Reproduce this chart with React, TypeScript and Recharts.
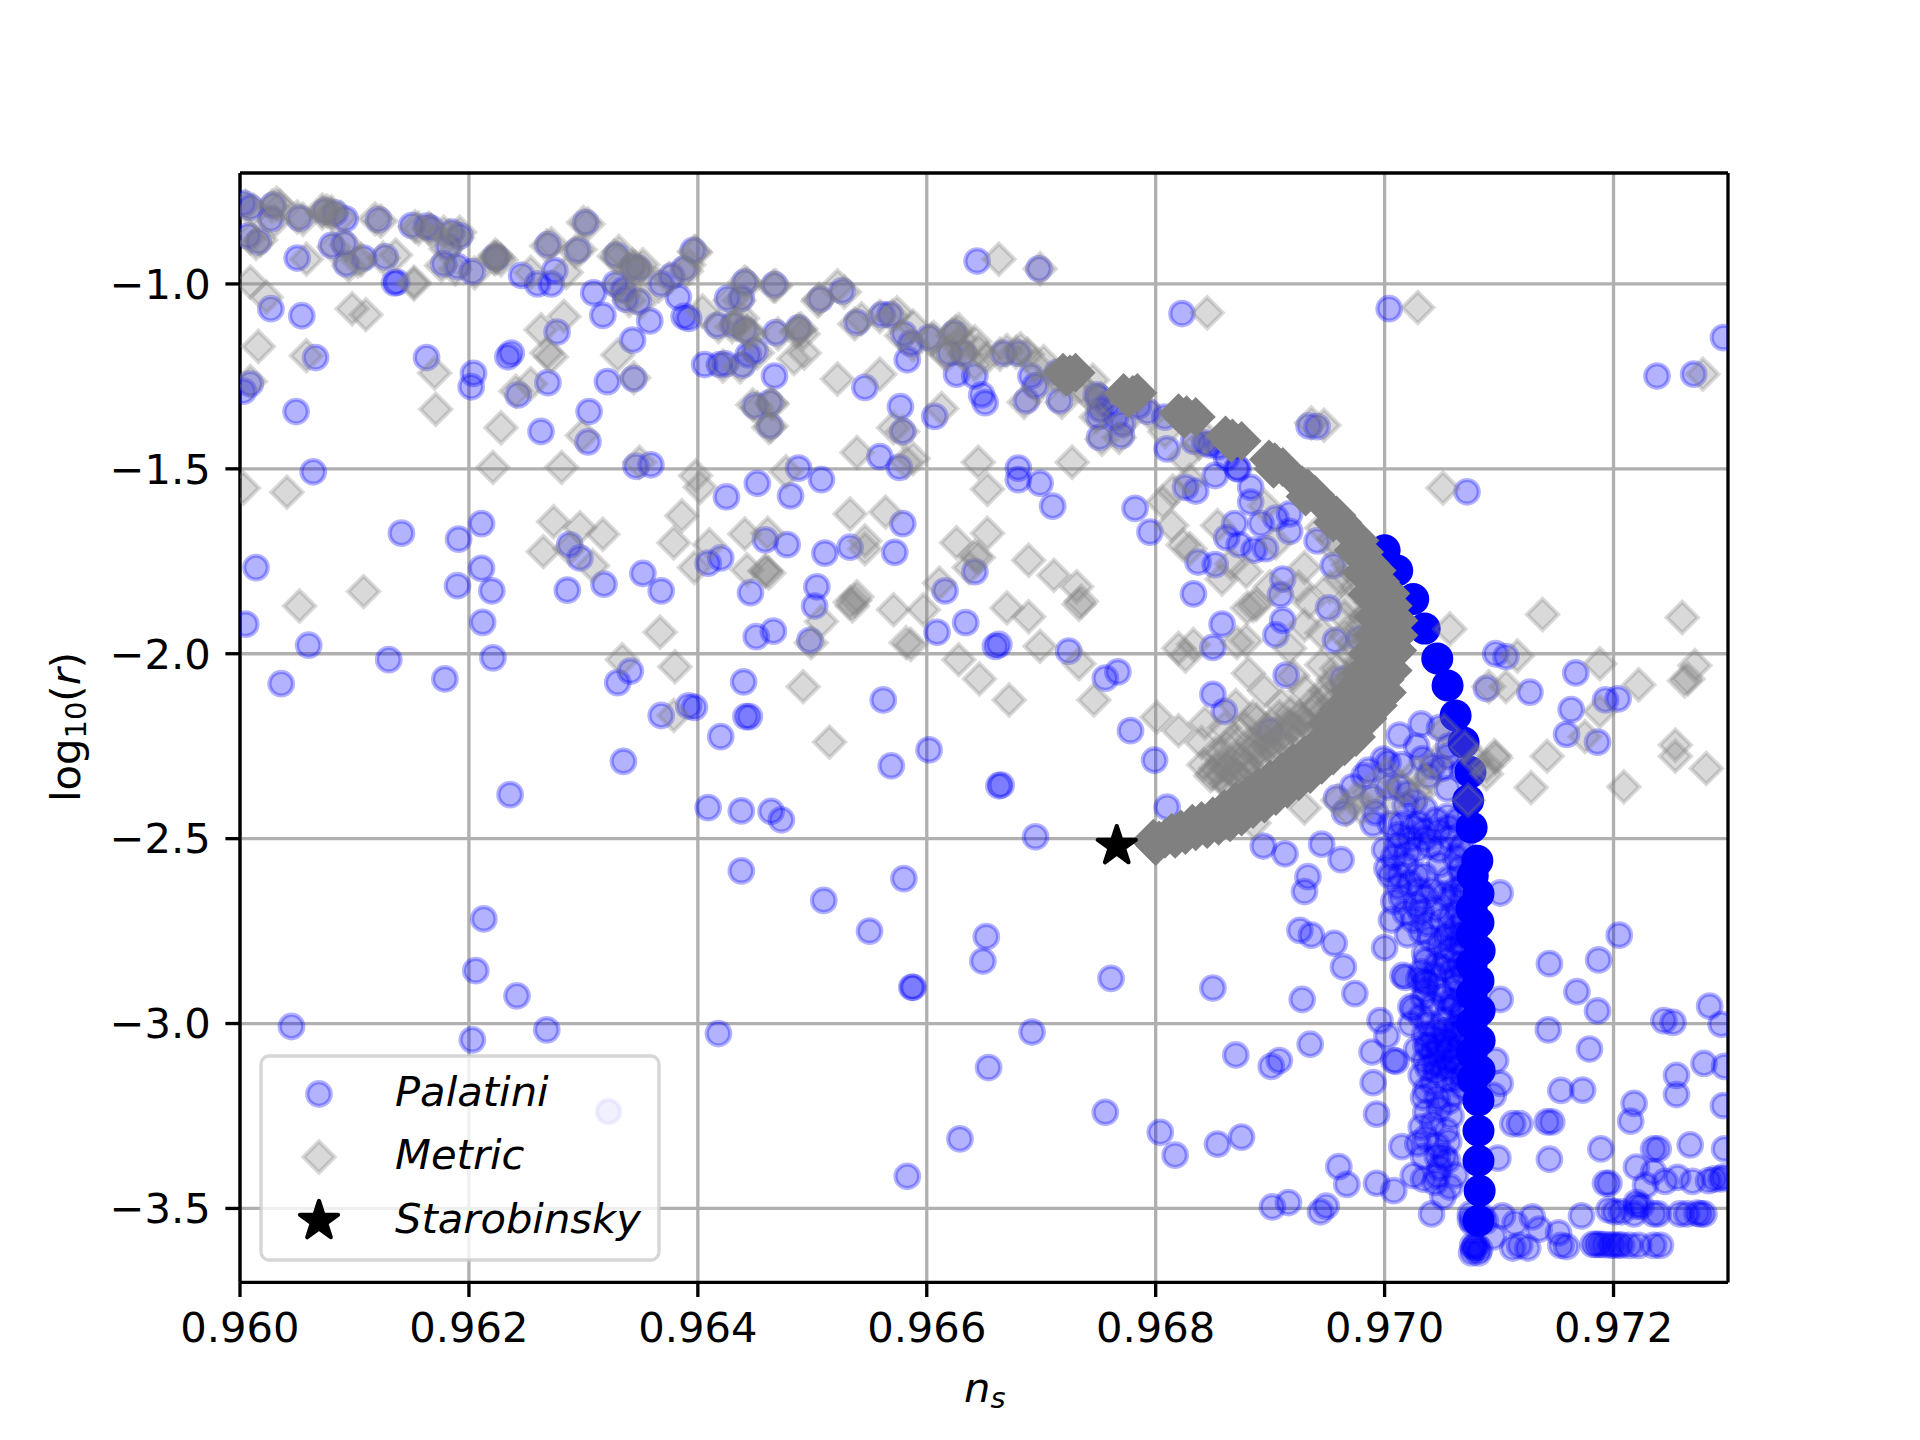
import React from 'react';
import { ScatterChart, Scatter, XAxis, YAxis, CartesianGrid, ReferenceLine } from 'recharts';

type Pair = [number, number];

const xTicks = [0.96, 0.962, 0.964, 0.966, 0.968, 0.97, 0.972];
const yTicks = [-3.5, -3, -2.5, -2, -1.5, -1];

// Palatini, top arc, values as [n_s, log10(r)]
const palatiniArc: Pair[] = [
  [.96003,-.782],[.96009,-.793],[.96029,-.787],[.96027,-.824],[.96052,-.822],[.96074,-.803],[.96083,-.808],[.96092,-.824],
  [.96121,-.826],[.9615,-.842],[.96163,-.844],[.96167,-.85],[.96185,-.86],[.96192,-.87],[.96182,-.9],[.96007,-.87],
  [.96016,-.886],[.9605,-.93],[.9608,-.896],[.96091,-.891],[.96093,-.946],[.96108,-.93],[.96127,-.927],[.96135,-.997],
  [.96137,-.995],[.96178,-.946],[.9619,-.953],[.96203,-.967],[.96223,-.927],[.96224,-.93],[.96246,-.977],[.9626,-1.0],[.96272,-1.0],
  [.96275,-.964],[.96302,-.834],[.96269,-.894],[.96295,-.909],[.96309,-1.024],[.96317,-1.085],[.96329,-.922],[.96328,-1.0],
  [.96335,-1.016],[.96343,-.953],[.96348,-.958],[.96337,-1.041],[.96348,-1.047],[.96358,-1.1],[.96343,-1.152],[.96368,-1.0],
  [.96377,-.979],[.96388,-.959],[.96396,-.909],[.96383,-1.036],[.96388,-1.088],[.96392,-1.093],[.96417,-1.112],[.96426,-1.039],
  [.96438,-1.039],[.96441,-.995],[.96431,-1.11],[.96441,-1.124],[.96467,-1.002],[.96468,-1.132],[.96488,-1.119],[.96507,-1.041],
  [.96526,-1.019],[.9645,-1.181],[.96444,-1.192],[.96406,-1.218],[.96419,-1.218],[.96424,-1.216],[.96439,-1.22],[.96467,-1.249],
  [.9645,-1.33],[.96463,-1.321],[.96463,-1.384],[.96539,-1.104],[.96561,-1.083],[.96568,-1.083],[.9658,-1.135],[.96586,-1.161],
  [.96602,-1.145],[.96624,-1.133],[.9662,-1.187],[.96583,-1.205],[.96546,-1.28],[.96577,-1.332],[.96607,-1.358],[.96579,-1.399],
  [.96632,-1.187],[.96626,-1.244],[.96642,-1.249],[.96648,-1.3],[.96651,-1.321],[.96644,-.938],[.96667,-1.187],[.9668,-1.187],
  [.96691,-1.249],[.96695,-1.275],[.96687,-1.316],[.96716,-1.316],[.96714,-1.239],[.96727,-1.233],[.96748,-1.3],[.9675,-1.306],
  [.9675,-1.358],[.96751,-1.415],[.9677,-1.41],[.96771,-1.379],[.96765,-1.36],[.96785,-1.33],[.96833,-1.425],[.96843,-1.43],[.96847,-1.435],
  [.96752,-1.34],[.96758,-1.325],[.96793,-1.345],[.96808,-1.36],[.96855,-1.44],[.96862,-1.47],[.96872,-1.5],
];

// Palatini, scattered points
const palatiniScatter: Pair[] = [
  [.96027,-1.067],[.96054,-1.086],[.96066,-1.199],[.96163,-1.199],[.96204,-1.242],[.96202,-1.278],[.96234,-1.197],[.96237,-1.187],
  [.96277,-1.13],[.96243,-1.3],[.96269,-1.267],[.96321,-1.264],[.96344,-1.256],[.96009,-1.27],[.96003,-1.29],[.96049,-1.345],
  [.96305,-1.345],[.96263,-1.399],[.96304,-1.427],[.96064,-1.508],[.96346,-1.493],[.96359,-1.489],[.96425,-1.576],[.96452,-1.539],
  [.96488,-1.498],[.96508,-1.529],[.96481,-1.573],[.96559,-1.467],[.96576,-1.496],[.96141,-1.674],[.96191,-1.69],[.96211,-1.648],
  [.96288,-1.705],[.96297,-1.741],[.96211,-1.769],[.96014,-1.767],[.9619,-1.816],[.9622,-1.83],[.96286,-1.828],[.96318,-1.812],
  [.96352,-1.783],[.96368,-1.83],[.96409,-1.755],[.9642,-1.741],[.96459,-1.692],[.96478,-1.705],[.96511,-1.728],[.96533,-1.712],
  [.96572,-1.726],[.96579,-1.648],[.96642,-1.778],[.96616,-1.83],[.96504,-1.819],[.96502,-1.871],[.96446,-1.835],[.96005,-1.92],
  [.96212,-1.915],[.9606,-1.977],[.96451,-1.954],[.96466,-1.939],[.96498,-1.964],[.96609,-1.942],[.96634,-1.916],[.9666,-1.98],
  [.9613,-2.016],[.96221,-2.011],[.96036,-2.081],[.96179,-2.068],[.96341,-2.047],[.9633,-2.078],[.9644,-2.076],[.96562,-2.125],
  [.96368,-2.167],[.96392,-2.141],[.96397,-2.145],[.96442,-2.17],[.96445,-2.17],[.9642,-2.224],[.96335,-2.291],[.96602,-2.26],
  [.96569,-2.303],[.96236,-2.381],[.96409,-2.416],[.96438,-2.425],[.96464,-2.426],[.96473,-2.449],[.96438,-2.587],[.9658,-2.608],
  [.9651,-2.667],[.9655,-2.75],[.96213,-2.717],[.96206,-2.857],[.96242,-2.925],[.96045,-3.008],[.96268,-3.017],[.96203,-3.044],
  [.96418,-3.027],[.96587,-2.902],[.96588,-2.902],[.96652,-2.765],[.96649,-2.831],[.96654,-3.119],[.96629,-3.312],[.96583,-3.413],
  [.96322,-3.238],[.96663,-2.357],[.96698,-.959],[.96823,-1.08],[.97004,-1.067],[.97238,-1.249],[.9727,-1.244],[.97296,-1.145],
  [.96934,-1.384],[.96941,-1.386],[.9681,-1.446],[.97072,-1.562],[.9668,-1.498],[.9668,-1.529],[.96699,-1.539],[.9671,-1.601],
  [.96782,-1.607],[.96795,-1.671],[.96833,-1.838],[.96724,-1.993],[.96756,-2.066],[.96767,-2.049],[.96778,-2.208],[.96799,-2.288],
  [.96663,-1.975],[.96826,-1.55],[.96835,-1.56],[.96852,-1.518],[.96871,-1.498],[.96883,-1.55],[.96883,-1.59],[.96869,-1.648],
  [.96862,-1.686],[.96873,-1.705],[.96886,-1.72],[.96896,-1.716],[.96892,-1.648],[.96905,-1.633],[.96917,-1.622],[.96917,-1.669],
  [.96941,-1.695],[.96837,-1.752],[.96852,-1.759],[.96911,-1.798],[.96909,-1.84],[.96955,-1.762],[.96911,-1.91],[.96951,-1.876],
  [.96905,-1.949],[.96858,-1.92],[.9685,-1.983],[.96957,-1.964],[.96978,-1.959],[.96914,-2.058],[.96963,-2.068],[.9685,-2.11],
  [.9686,-2.156],[.97097,-2.0],[.97106,-2.008],[.97089,-2.094],[.97127,-2.104],[.97167,-2.052],[.97163,-2.151],[.97193,-2.125],
  [.97204,-2.122],[.97159,-2.218],[.97186,-2.239],[.969,-2.208],[.96665,-2.355],[.9681,-2.415],[.96695,-2.495],[.96761,-2.878],
  [.9685,-2.904],[.96692,-3.023],[.96756,-3.24],[.96804,-3.294],[.96817,-3.356],[.96854,-3.326],[.96875,-3.307],[.96894,-2.52],
  [.96913,-2.541],[.96945,-2.515],[.96962,-2.557],[.96933,-2.603],[.9693,-2.643],[.96926,-2.748],[.96936,-2.761],[.96956,-2.783],
  [.96964,-2.847],[.96928,-2.935],[.96974,-2.919],[.9687,-3.085],[.96901,-3.116],[.96908,-3.1],[.96935,-3.056],[.97,-2.795],
  [.96996,-2.992],[.97002,-3.033],[.96989,-3.077],[.97008,-3.1],[.9701,-3.102],[.9699,-3.16],[.96993,-3.245],[.97023,-2.955],
  [.97023,-3.002],[.97101,-2.647],[.97101,-2.935],[.97097,-3.1],[.97101,-3.162],[.97095,-3.194],[.97144,-2.838],[.97187,-2.828],
  [.97205,-2.761],[.97168,-2.914],[.97186,-2.966],[.97143,-3.017],[.97179,-3.069],[.97154,-3.181],[.97173,-3.18],[.97112,-3.271],
  [.97118,-3.271],[.97142,-3.266],[.97146,-3.266],[.97144,-3.367],[.97189,-3.339],[.97284,-2.953],[.97244,-2.992],[.97252,-2.997],
  [.97294,-3.002],[.97279,-3.108],[.97297,-3.116],[.97255,-3.14],[.97255,-3.192],[.97296,-3.222],[.97218,-3.216],[.97215,-3.264],
  [.97267,-3.328],[.97297,-3.339],[.97235,-3.339],[.97239,-3.339],[.9722,-3.388],[.97235,-3.401],[.97256,-3.416],[.97228,-3.437],
  [.97245,-3.427],[.97269,-3.427],[.97288,-3.42],[.97294,-3.42],[.97296,-3.415],[.97283,-3.425],[.97196,-3.432],[.97193,-3.432],
  [.9722,-3.494],[.97224,-3.494],[.9722,-3.484],[.97196,-3.504],[.97201,-3.509],[.97207,-3.509],[.97235,-3.515],[.97239,-3.515],
  [.97258,-3.515],[.97264,-3.515],[.97273,-3.513],[.97276,-3.515],[.97279,-3.515],[.97218,-3.515],[.97172,-3.52],[.97188,-3.597],
  [.97182,-3.597],[.97197,-3.599],[.97207,-3.599],[.97214,-3.6],[.97222,-3.6],[.97235,-3.6],[.97241,-3.6],[.97185,-3.597],[.97192,-3.598],
  [.972,-3.599],[.97204,-3.599],[.97154,-3.6],[.97159,-3.603],[.97112,-3.607],[.97125,-3.607],[.97118,-3.6],[.97103,-3.52],
  [.97129,-3.523],[.97114,-3.54],[.97135,-3.556],[.97152,-3.566],[.97095,-3.577],[.96902,-3.496],[.96916,-3.484],[.96944,-3.509],
  [.96949,-3.494],[.9696,-3.387],[.96967,-3.435],[.96993,-3.432],[.97008,-3.452],[.97025,-3.411],[.97034,-3.421],[.97041,-3.515],
  [.97051,-3.468],[.97057,-3.442],[.97046,-3.411],[.97015,-3.333],[.97029,-3.325],[.97046,-3.359],[.97055,-3.37],[.97099,-3.364],
];

// Palatini, the cloud just inside the ridge
const palatiniCloud: Pair[] = [
  [.96986,-2.315],[.96999,-2.285],[.97003,-2.295],[.97035,-2.42],[.9703,-2.46],[.97056,-2.47],[.97064,-2.45],[.97047,-2.48],
  [.9702,-2.378],[.97055,-2.365],[.97042,-2.305],[.97033,-2.284],[.97055,-2.278],[.97068,-2.315],[.97012,-2.36],[.97026,-2.4],
  [.97015,-2.46],[.97025,-2.47],[.97045,-2.45],[.97055,-2.44],[.97035,-2.48],[.97012,-2.52],[.97,-2.53],[.9702,-2.54],[.9704,-2.52],
  [.97058,-2.5],[.97005,-2.6],[.97018,-2.57],[.97035,-2.6],[.97048,-2.57],[.97062,-2.55],[.97012,-2.63],[.97022,-2.62],[.97042,-2.64],
  [.97056,-2.61],[.97068,-2.6],[.97008,-2.67],[.97015,-2.66],[.97028,-2.68],[.97045,-2.69],[.97058,-2.66],[.97025,-2.72],[.97032,-2.7],
  [.9705,-2.72],[.97065,-2.7],[.9704,-2.77],[.97055,-2.76],[.97062,-2.74],[.97035,-2.81],[.97058,-2.8],[.97068,-2.78],[.97032,-2.86],
  [.97016,-2.87],[.97018,-2.875],[.9703,-2.88],[.97052,-2.85],[.97066,-2.84],[.97034,-2.93],[.97048,-2.91],[.97062,-2.9],[.97025,-2.96],
  [.97042,-2.95],[.97058,-2.94],[.97068,-2.97],[.97032,-2.98],[.97038,-3.0],[.97052,-2.99],[.97035,-3.03],[.97045,-3.02],[.97062,-3.01],
  [.97028,-3.07],[.97038,-3.06],[.97054,-3.05],[.97066,-3.04],[.97035,-3.1],[.97048,-3.09],[.97062,-3.08],[.97032,-3.14],[.97045,-3.13],
  [.97058,-3.12],[.97036,-3.18],[.97042,-3.16],[.97055,-3.15],[.97068,-3.17],[.97034,-3.2],[.97046,-3.2],[.9706,-3.19],[.97036,-3.24],
  [.97048,-3.23],[.97058,-3.25],[.97032,-3.28],[.97042,-3.27],[.97054,-3.29],[.97036,-3.31],[.97046,-3.33],[.97056,-3.32],[.97052,-3.36],
  [.97048,-3.39],[.97034,-3.36],[.97044,-3.43],[.97062,-3.41],[.97035,-2.5],[.97022,-2.5],[.97048,-2.53],[.97068,-2.52],[.97028,-2.6],
  [.97052,-2.65],[.97038,-2.73],[.97048,-2.79],[.97054,-2.83],[.97044,-2.87],[.97036,-2.91],[.97056,-2.96],[.97048,-3.06],[.97056,-3.21],
  // left of the edge, packed tight
  [.97066,-2.53],[.97066,-2.58],[.97068,-2.63],[.97067,-2.67],[.97069,-2.72],[.97068,-2.76],[.97069,-2.81],[.97068,-2.86],[.97069,-2.92],
  [.97067,-2.98],[.97068,-3.02],[.97066,-3.06],[.97067,-3.11],[.97068,-3.14],[.97062,-2.64],[.97063,-2.78],[.97062,-2.88],[.97061,-2.95],
  [.97062,-3.03],[.97061,-3.1],[.97063,-3.15],[.97058,-3.03],[.97056,-3.07],[.97052,-3.02],[.97056,-3.1],[.97052,-3.12],[.97042,-3.04],
  [.97042,-3.08],[.97036,-3.06],[.97044,-3.11],[.97038,-3.12],[.97058,-2.71],[.97053,-2.77],[.97046,-2.84],[.97058,-2.86],[.97052,-2.93],
  // dense clump and the foot of the column
  [.97012,-2.49],[.97028,-2.53],[.97008,-2.55],[.97002,-2.58],[.97013,-2.6],[.9703,-2.64],[.97018,-2.7],[.97036,-2.66],[.9702,-2.76],
  [.97032,-2.75],[.97006,-2.72],[.97036,-2.83],[.97035,-2.885],[.97037,-2.89],[.97078,-3.61],[.97076,-3.62],[.9708,-3.6],[.97082,-3.62],
  [.97079,-3.605],[.97083,-3.61],[.97077,-3.6],[.97075,-3.53],[.97077,-3.54],[.97085,-3.52],[.97088,-3.535],[.97075,-3.515],
  // cloud under the grey arc
  [.96958,-2.39],[.96972,-2.36],[.96965,-2.43],[.9699,-2.39],[.96982,-2.33],[.97003,-2.36],[.97015,-2.3],[.97028,-2.25],[.97013,-2.22],
  [.97032,-2.19],[.97048,-2.2],[.97056,-2.25],[.97038,-2.33],[.9705,-2.31],[.97018,-2.41],[.97005,-2.46],[.9699,-2.46],[.96992,-2.43],
];

// Palatini, the opaque blue edge where the points pile up
const palatiniRidge: Pair[] = [
  [.97,-1.72],[.97011,-1.775],[.97025,-1.852],[.97035,-1.932],[.97046,-2.013],[.97055,-2.086],[.97062,-2.167],[.97069,-2.24],
  [.97075,-2.32],[.97073,-2.397],[.97076,-2.47],[.97081,-2.56],[.97082,-2.649],[.97082,-2.727],[.97083,-2.803],[.97082,-2.884],
  [.97083,-2.965],[.97083,-3.046],[.97083,-3.127],[.97082,-3.208],[.97082,-3.29],[.97082,-3.371],[.97083,-3.452],[.97082,-3.533],
  [.97077,-2.6],[.97076,-2.69],[.97076,-2.76],[.97076,-2.84],[.97076,-2.92],[.97076,-3.0],[.97076,-3.08],[.97077,-3.15],
];

// Metric, along the top arc over the Palatini points
const metricArc: Pair[] = [
  [.96005,-.79],[.96012,-.8],[.96028,-.79],[.9603,-.83],[.96055,-.825],[.96072,-.808],[.9608,-.812],[.96088,-.82],[.96123,-.83],[.96153,-.845],
  [.96165,-.85],[.96178,-.86],[.9619,-.875],[.9618,-.905],[.96009,-.875],[.96014,-.89],[.96082,-.9],[.96093,-.895],[.96095,-.95],[.96106,-.935],
  [.96125,-.93],[.96176,-.95],[.96188,-.96],[.96205,-.97],[.96222,-.93],[.96225,-.928],[.96228,-.935],[.96268,-.897],[.96293,-.912],[.96304,-.838],
  [.96327,-.925],[.9633,-.93],[.96345,-.955],[.96346,-.965],[.9635,-.96],[.9633,-1.005],[.96338,-1.02],[.9634,-1.045],[.9635,-1.05],[.96366,-1.005],
  [.96375,-.985],[.9639,-.965],[.96398,-.915],[.96418,-1.115],[.96428,-1.045],[.96436,-1.045],[.96443,-1.0],[.9643,-1.115],[.96443,-1.128],
  [.96447,-1.135],[.96466,-1.006],[.9647,-1.135],[.9649,-1.122],[.96486,-1.13],[.96505,-1.046],[.96528,-1.022],[.96452,-1.186],[.96422,-1.222],
  [.96437,-1.224],[.96452,-1.335],[.96465,-1.325],[.96462,-1.388],[.96537,-1.108],[.96559,-1.088],[.9657,-1.088],[.96578,-1.14],[.96588,-1.165],
  [.96604,-1.15],[.96622,-1.138],[.96618,-1.192],[.96632,-1.19],[.96625,-1.13],[.9663,-1.15],[.96628,-1.17],[.96645,-1.18],[.96652,-1.2],[.96664,-1.19],
  [.9667,-1.18],[.96682,-1.175],[.96678,-1.185],[.96688,-1.19],[.96695,-1.22],[.96702,-1.21],[.96712,-1.25],[.9672,-1.26],[.96697,-1.28],[.96685,-1.32],
  [.96718,-1.32],[.96735,-1.28],[.9674,-1.295],[.96752,-1.31],[.96748,-1.36],[.96753,-1.42],[.96768,-1.415],[.96772,-1.375],[.96745,-1.26],[.96795,-1.35],
  [.96808,-1.4],[.96752,-1.33],[.96838,-1.43],[.96845,-1.42],
];

// Metric, scattered points
const metricScatter: Pair[] = [
  [.96032,-.782],[.96035,-.79],[.96076,-.803],[.96072,-.8],[.9608,-.806],[.9605,-.819],[.96118,-.824],[.96156,-.85],[.96167,-.855],[.96192,-.86],
  [.96183,-.87],[.96018,-.881],[.96058,-.933],[.96136,-.922],[.96103,-.938],[.96223,-.922],[.96223,-.932],[.96254,-.969],[.96272,-.891],
  [.963,-.834],[.96297,-.907],[.96285,-.969],[.96331,-.912],[.96343,-.948],[.96352,-.948],[.96392,-.948],[.96397,-.912],[.96152,-.995],
  [.96152,-1.0],[.96009,-.995],[.96023,-1.036],[.96098,-1.067],[.9611,-1.083],[.96016,-1.169],[.96058,-1.194],[.96009,-1.264],[.9617,-1.241],
  [.96171,-1.339],[.96228,-1.389],[.96241,-1.29],[.96254,-1.27],[.96268,-1.187],[.96272,-1.197],[.96263,-1.124],[.96283,-1.088],[.96299,-1.41],
  [.9633,-1.192],[.96344,-1.254],[.96221,-1.496],[.96281,-1.496],[.96041,-1.563],[.96003,-1.552],[.96349,-1.482],[.96398,-1.519],[.96402,-1.55],
  [.96477,-1.508],[.96539,-1.456],[.96588,-1.472],[.96582,-1.482],[.96645,-1.482],[.96653,-1.555],[.96522,-1.257],[.96559,-1.244],[.96484,-1.202],
  [.96493,-1.187],[.96448,-1.327],[.96464,-1.321],[.96464,-1.384],[.96404,-1.073],[.96439,-1.093],[.96468,-1.005],[.96441,-.995],[.96506,-1.041],
  [.96522,-1.005],[.96488,-1.124],[.96492,-1.135],[.96434,-1.11],[.96443,-1.13],[.96543,-1.094],[.96574,-1.078],[.96588,-1.114],[.96606,-1.145],
  [.96628,-1.124],[.96642,-1.156],[.96615,-1.187],[.96642,-1.218],[.96613,-1.337],[.96571,-1.389],[.96579,-1.399],[.96274,-1.643],[.96297,-1.659],
  [.96317,-1.677],[.96265,-1.724],[.96288,-1.716],[.96308,-1.762],[.96386,-1.627],[.96379,-1.7],[.9641,-1.705],[.96397,-1.767],[.96441,-1.676],
  [.96461,-1.674],[.96443,-1.773],[.96459,-1.778],[.96459,-1.775],[.96462,-1.782],[.96533,-1.622],[.96564,-1.617],[.96546,-1.695],[.96546,-1.716],
  [.96626,-1.7],[.96653,-1.674],[.96642,-1.736],[.96645,-1.74],[.96637,-1.767],[.96611,-1.809],[.96597,-1.881],[.96537,-1.856],[.96539,-1.846],
  [.96535,-1.871],[.96533,-1.861],[.96571,-1.881],[.96508,-1.913],[.96499,-1.97],[.96052,-1.871],[.96108,-1.832],[.96367,-1.942],[.96582,-1.97],
  [.96586,-1.975],[.96334,-2.016],[.9638,-2.035],[.96628,-2.016],[.96646,-2.068],[.96492,-2.089],[.96379,-2.167],[.96515,-2.239],[.96663,-.933],
  [.96699,-.959],[.96845,-1.078],[.97029,-1.064],[.97278,-1.244],[.96936,-1.376],[.96947,-1.382],
  [.96727,-1.482],[.97051,-1.552],[.97138,-1.894],[.9726,-1.902],[.97057,-1.933],[.96689,-1.747],[.96711,-1.788],[.96731,-1.819],[.96733,-1.866],
  [.96735,-1.858],[.9667,-1.876],[.96689,-1.9],[.96699,-1.98],[.96733,-2.027],[.96672,-2.125],[.96746,-2.125],[.9682,-1.985],[.96833,-1.975],
  [.96826,-2.006],[.9682,-2.208],[.96801,-2.172],[.96843,-2.187],[.96881,-2.053],[.96814,-1.653],[.9683,-1.716],[.96824,-1.706],[.96854,-1.653],
  [.96866,-1.757],[.96879,-1.778],[.96858,-1.798],[.96888,-1.866],[.96885,-1.87],[.9688,-1.876],[.969,-1.819],[.9693,-1.767],[.96934,-1.861],
  [.9693,-1.923],[.96917,-1.985],[.96871,-1.97],[.96879,-1.965],[.96945,-1.944],[.9697,-1.861],[.96981,-1.902],[.97116,-2.006],[.97106,-2.089],
  [.97091,-2.089],[.97188,-2.027],[.97271,-2.032],[.97262,-2.073],[.97265,-2.068],[.97222,-2.084],[.97188,-2.156],[.97175,-2.224],[.97254,-2.247],
  [.97128,-2.362],[.97209,-2.36],[.97281,-2.31],[.97254,-2.277],[.97142,-2.277],[.97097,-2.282],[.97089,-2.303],[.97073,-2.396],[.9685,-2.324],
  [.9693,-2.417],[.96959,-2.396],[.96967,-2.422],[.96985,-2.375],[.97002,-2.324],[.97036,-2.345],[.96886,-2.458],[.96825,-1.47],[.9683,-1.53],
  [.96815,-1.56],[.96806,-1.59],[.96895,-1.6],[.96905,-1.7],[.96945,-1.66],[.96958,-1.72],[.96972,-1.78],[.9699,-1.83],[.96925,-1.82],[.96952,-1.82],
  [.96965,-1.9],[.96985,-1.95],[.9697,-2.0],[.96945,-2.03],[.9692,-2.06],[.96895,-2.1],[.9687,-2.14],[.9684,-2.24],[.9686,-2.2],[.96885,-2.17],
  [.9691,-2.14],[.9693,-2.1],[.96955,-2.07],[.96975,-2.04],[.97052,-2.207],[.9707,-2.253],[.97096,-2.275],[.97089,-2.325],[.9708,-2.29],
  [.97015,-2.36],[.97028,-2.32],[.97045,-2.29],[.9703,-2.38],[.97005,-2.4],[.9698,-2.42],[.96975,-2.39],
];

// Metric, the band on the inner side of the arc, still translucent
const metricBand: Pair[] = [
  [.96842,-2.3],[.96852,-2.27],[.96862,-2.25],[.96872,-2.28],[.96882,-2.24],[.96892,-2.22],[.96848,-2.33],[.96858,-2.3],[.96868,-2.32],[.96878,-2.3],
  [.96888,-2.27],[.96898,-2.25],[.96908,-2.23],[.96918,-2.2],[.96928,-2.18],[.96865,-2.36],[.96875,-2.34],[.96885,-2.32],[.96895,-2.29],[.96905,-2.27],
  [.96915,-2.25],[.96925,-2.22],[.96935,-2.2],[.96945,-2.16],[.96955,-2.13],[.96858,-2.27],[.96868,-2.23],[.96878,-2.2],[.96888,-2.18],[.96898,-2.2],
  [.96908,-2.17],[.96918,-2.16],[.96938,-2.13],[.96948,-2.1],[.96958,-2.04],[.96968,-2.08],[.96978,-2.02],[.96988,-1.97],[.96995,-1.99],[.96982,-2.1],
  [.96852,-2.31],[.96857,-2.33],[.96862,-2.31],[.96866,-2.29],[.96861,-2.35],[.96871,-2.33],[.96876,-2.31],[.96881,-2.28],[.96886,-2.25],[.96891,-2.26],
  [.96896,-2.23],[.96901,-2.24],[.96906,-2.21],[.96911,-2.22],[.96916,-2.19],[.96921,-2.2],[.96926,-2.17],[.96931,-2.19],[.96936,-2.16],[.96941,-2.14],
  [.96946,-2.19],[.96951,-2.11],[.96956,-2.16],[.96961,-2.09],[.96966,-2.14],[.96971,-2.06],[.96976,-2.1],[.96981,-2.05],[.96986,-2.03],[.96991,-2.06],
  [.96972,-1.97],[.96978,-1.93],[.96984,-1.9],[.96988,-1.86],[.96975,-1.82],[.96968,-1.76],[.96962,-1.8],[.96955,-1.69],[.96988,-2.0],[.96965,-1.95],
];

// Metric, the opaque grey arc where the points pile up
const metricRidge: Pair[] = [
  [.96719,-1.24],[.96725,-1.245],[.9673,-1.24],[.96722,-1.25],[.96772,-1.295],[.9678,-1.3],[.96776,-1.31],[.96784,-1.295],
  [.9682,-1.35],[.96827,-1.355],[.96835,-1.36],[.96825,-1.365],[.96861,-1.41],[.96867,-1.418],[.96875,-1.425],[.96866,-1.43],
  [.96899,-1.475],[.96904,-1.482],[.96911,-1.495],[.96903,-1.5],[.96928,-1.545],[.96933,-1.553],[.96939,-1.57],[.96931,-1.575],
  [.96953,-1.615],[.96958,-1.626],[.96963,-1.645],[.96955,-1.645],[.96972,-1.68],[.96978,-1.694],[.96982,-1.725],[.96973,-1.72],
  [.96987,-1.755],[.96993,-1.775],[.96996,-1.805],[.96985,-1.79],[.97,-1.83],[.97005,-1.837],[.97007,-1.87],[.96995,-1.86],
  [.97009,-1.91],[.97012,-1.91],[.97,-1.9],[.97012,-1.95],[.97001,-1.95],[.97011,-1.991],[.97,-2.0],[.97007,-2.045],[.96995,-2.04],
  [.97002,-2.105],[.97,-2.07],[.96988,-2.09],[.96994,-2.14],[.9698,-2.13],[.96985,-2.175],[.97,-2.11],
  // inner side of the vertical stretch
  [.96975,-1.72],[.9698,-1.78],[.96985,-1.84],[.9699,-1.9],[.9699,-1.95],[.96985,-2.0],[.9698,-2.05],[.9697,-2.1],[.9696,-2.15],[.9695,-2.19],
  // the tail back towards the star
  [.96798,-2.513],[.96798,-2.5],[.96803,-2.505],[.968,-2.52],[.96808,-2.5],[.96814,-2.484],[.96817,-2.5],[.96822,-2.475],[.96826,-2.49],[.96832,-2.46],
  [.96835,-2.48],[.9684,-2.452],[.96845,-2.474],[.9685,-2.44],[.96855,-2.465],[.9686,-2.42],[.96865,-2.456],[.9687,-2.4],[.96875,-2.44],[.9688,-2.385],
  [.96885,-2.42],[.9689,-2.36],[.96895,-2.405],[.969,-2.34],[.96905,-2.385],[.9691,-2.32],[.96915,-2.365],[.9692,-2.295],[.96925,-2.345],[.9693,-2.275],
  [.96935,-2.325],[.9694,-2.25],[.96945,-2.3],[.9695,-2.225],[.96955,-2.275],[.9696,-2.2],[.96965,-2.25],[.9697,-2.175],[.96975,-2.225],[.96865,-2.42],
  [.96885,-2.385],[.96905,-2.35],[.96925,-2.31],[.96945,-2.26],[.96965,-2.21],[.96985,-2.14],
];

const starobinsky: Pair[] = [[.96766, -2.52]];

const toPoints = (pairs: Pair[]) => pairs.map(([x, y]) => ({ x, y }));

const FONT = '"DejaVu Sans", sans-serif';
const EDGE = 4.17;
const GRID_COLOR = '#b0b0b0';

function CircleMark({ cx, cy }: any) {
  return (
    <circle cx={cx} cy={cy} r={11.8} fill="#0000ff" fillOpacity={0.3}
      stroke="#0000ff" strokeOpacity={0.3} strokeWidth={EDGE} />
  );
}

function RidgeCircle({ cx, cy }: any) {
  return <circle cx={cx} cy={cy} r={16} fill="#0000ff" />;
}

const diamondPath = (cx: number, cy: number, r: number) =>
  `M${cx},${cy - r}L${cx + r},${cy}L${cx},${cy + r}L${cx - r},${cy}Z`;

function DiamondMark({ cx, cy }: any) {
  return (
    <path d={diamondPath(cx, cy, 15.5)} fill="#808080" fillOpacity={0.3}
      stroke="#808080" strokeOpacity={0.3} strokeWidth={EDGE} strokeLinejoin="miter" />
  );
}

function RidgeDiamond({ cx, cy }: any) {
  return <path d={diamondPath(cx, cy, 20)} fill="#808080" />;
}

const starPath = (cx: number, cy: number, outer: number) => {
  const inner = outer * 0.381966;
  let d = '';
  for (let i = 0; i < 10; i++) {
    const r = i % 2 === 0 ? outer : inner;
    const a = (i * Math.PI) / 5;
    d += `${i === 0 ? 'M' : 'L'}${cx + r * Math.sin(a)},${cy - r * Math.cos(a)}`;
  }
  return d + 'Z';
};

function StarMark({ cx, cy }: any) {
  return <path d={starPath(cx, cy, 20)} fill="#000" stroke="#000" strokeWidth={EDGE} strokeLinejoin="round" />;
}

function LegendOverlay() {
  const textStyle = { fontFamily: FONT, fontStyle: 'italic', fontSize: 41.67, fill: '#000' };
  return (
    <svg width={1920} height={1440} style={{ position: 'absolute', left: 0, top: 0 }}>
      <rect x={261} y={1056} width={398} height={204} rx={8} fill="#fff" fillOpacity={0.8}
        stroke="#cccccc" strokeOpacity={0.8} strokeWidth={3.33} />
      <CircleMark cx={319} cy={1094} />
      <DiamondMark cx={319} cy={1157} />
      <StarMark cx={319} cy={1221} />
      <text x={395} y={1106} {...textStyle}>Palatini</text>
      <text x={395} y={1169} {...textStyle}>Metric</text>
      <text x={395} y={1233} {...textStyle}>Starobinsky</text>
      <text x={964} y={1402} {...textStyle}>
        n<tspan fontSize={29} dy={6}>s</tspan>
      </text>
      <g transform="translate(80,727) rotate(-90)">
        <text textAnchor="middle" style={{ fontFamily: FONT, fontSize: 41.67 }}>
          log<tspan fontSize={29} dy={6}>10</tspan>
          <tspan dy={-6}>(</tspan><tspan fontStyle="italic">r</tspan>)
        </text>
      </g>
    </svg>
  );
}

export default function App() {
  const tickStyle = { fontFamily: FONT, fontSize: 41.67, fill: '#000' };
  const axisLine = { stroke: '#000', strokeWidth: 3.33 };
  const tickLine = { stroke: '#000', strokeWidth: 3.33 };
  return (
    <div style={{ position: 'absolute', left: 0, top: 0, width: 1920, height: 1440, background: '#fff' }}>
      <ScatterChart width={1920} height={1440} margin={{ top: 173, right: 192, bottom: 57.6, left: 140 }}>
        <XAxis
          type="number"
          dataKey="x"
          domain={[0.96, 0.973]}
          ticks={xTicks}
          allowDataOverflow
          height={100}
          tick={tickStyle}
          tickSize={14.6}
          tickMargin={15.6}
          tickFormatter={(v: number) => v.toFixed(3)}
          axisLine={axisLine}
          tickLine={tickLine}
          interval={0}
        />
        <YAxis
          type="number"
          dataKey="y"
          domain={[-3.7, -0.7]}
          ticks={yTicks}
          allowDataOverflow
          width={100}
          tick={tickStyle}
          tickSize={14.6}
          tickMargin={14.6}
          tickFormatter={(v: number) => v.toFixed(1).replace('-', '\u2212')}
          axisLine={axisLine}
          tickLine={tickLine}
          interval={0}
        />
        <Scatter data={toPoints(palatiniArc)} shape={CircleMark} isAnimationActive={false} />
        <Scatter data={toPoints(palatiniScatter)} shape={CircleMark} isAnimationActive={false} />
        <Scatter data={toPoints(palatiniCloud)} shape={CircleMark} isAnimationActive={false} />
        <Scatter data={toPoints(palatiniRidge)} shape={RidgeCircle} isAnimationActive={false} />
        <Scatter data={toPoints(metricArc)} shape={DiamondMark} isAnimationActive={false} />
        <Scatter data={toPoints(metricScatter)} shape={DiamondMark} isAnimationActive={false} />
        <Scatter data={toPoints(metricBand)} shape={DiamondMark} isAnimationActive={false} />
        <Scatter data={toPoints(metricRidge)} shape={RidgeDiamond} isAnimationActive={false} />
        <CartesianGrid stroke={GRID_COLOR} strokeWidth={3.33} horizontalValues={yTicks} verticalValues={xTicks} />
        <Scatter data={toPoints(starobinsky)} shape={StarMark} isAnimationActive={false} />
        <ReferenceLine x={0.973} stroke="#000" strokeWidth={3.33} ifOverflow="visible" />
        <ReferenceLine y={-0.7} stroke="#000" strokeWidth={3.33} ifOverflow="visible" />
      </ScatterChart>
      <LegendOverlay />
    </div>
  );
}
